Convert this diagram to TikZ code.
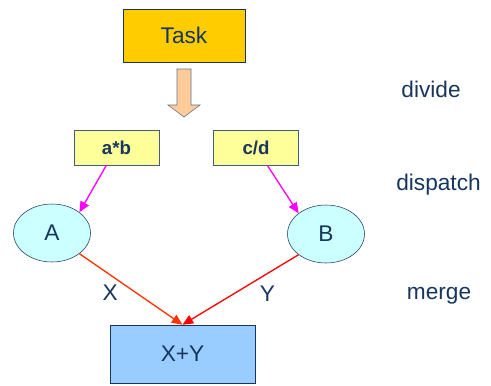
\documentclass[tikz,border=0pt]{standalone}
\usepackage{fontspec}
\setmainfont{Liberation Sans}
\usetikzlibrary{arrows.meta,shapes.geometric}
\definecolor{navy}{RGB}{23,54,93}
\definecolor{taskgold}{RGB}{255,204,0}
\definecolor{peach}{RGB}{255,204,153}
\definecolor{paleyellow}{RGB}{255,255,153}
\definecolor{palecyan}{RGB}{204,255,255}
\definecolor{skyblue}{RGB}{153,204,255}
\definecolor{redorange}{RGB}{255,51,0}
\definecolor{puremagenta}{RGB}{255,0,255}
\tikzset{
  every picture/.style={font={\fontsize{17}{20}\selectfont}, text=navy,
    >={Triangle[length=8pt, width=7pt]}}}

\begin{document}
\begin{tikzpicture}[x=0.75pt, y=-0.75pt]
    \tikzstyle{box}=[draw=navy, thin, inner sep=0pt]
    \tikzstyle{step label}=[anchor=base]
    \useasboundingbox (0,0) rectangle (491,385);

    \node[box, fill=taskgold, minimum width=91.5pt, minimum height=39.75pt] (task) at (184,35.5) {Task};

    % block arrow between task and sub-tasks
    \draw[draw=navy!70, fill=peach] (177,69) -- (191,69) -- (191,105) -- (200,105)
      -- (184,117) -- (168,105) -- (177,105) -- cycle;

    \begin{scope}[every node/.style={box, draw=navy!80, fill=paleyellow,
      minimum width=63.75pt, minimum height=26.25pt, font=\fontsize{14}{16}\selectfont\bfseries}]
      \node (ab) at (116.5,147.5) {a*b};
      \node (cd) at (256,148) {c/d};
    \end{scope}

    \begin{scope}[every node/.style={ellipse, draw=navy, thin, fill=palecyan,
      minimum width=57.75pt, minimum height=43.5pt, inner sep=0pt}]
      \node (A) at (52,233) {A};
      \node (B) at (326,234) {B};
    \end{scope}

    \node[box, fill=skyblue, minimum width=108.75pt, minimum height=43.5pt] (XY) at (182.5,354) {X+Y};

    \node[step label] (divide) at (431,97) {divide};
    \node[step label] (dispatch) at (438.5,190) {dispatch};
    \node[step label] (merge) at (439,299) {merge};

    \begin{scope}[line width=1pt, every node/.style={text=navy}]
      \draw[->, puremagenta] (ab) -- (A.north east);
      \draw[->, puremagenta] (cd) -- (B.north west);
      \draw[->, redorange] (A.south east) -- node[pos=0.55, left=10pt] {X} (XY.north);
      \draw[->, red] (B.south west) -- node[pos=0.55, right=15pt] {Y} (XY.north);
    \end{scope}
\end{tikzpicture}
\end{document}
